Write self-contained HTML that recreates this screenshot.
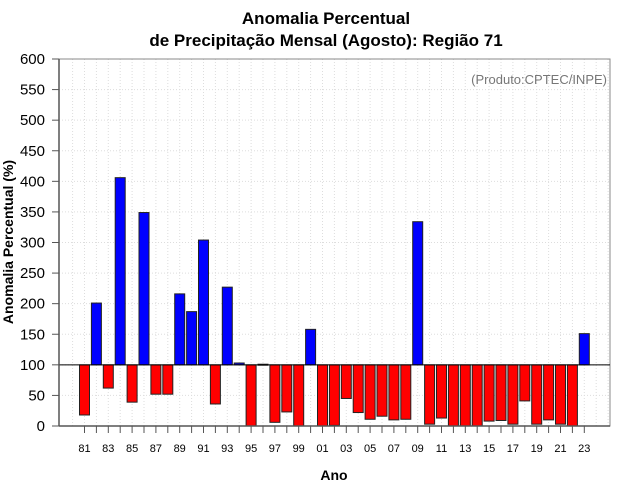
<!DOCTYPE html>
<html><head><meta charset="utf-8"><style>
body{margin:0;background:#fff;}
svg{display:block;font-family:"Liberation Sans",sans-serif;}
</style></head><body>
<svg id="c" width="640" height="500" viewBox="0 0 640 500"></svg>
<script>
const years = [81,82,83,84,85,86,87,88,89,90,91,92,93,94,95,96,97,98,99,0,1,2,3,4,5,6,7,8,9,10,11,12,13,14,15,16,17,18,19,20,21,22,23];
const values = [18,201,62,406,39,349,52,52,216,187,304,36,227,103,0,101,6,23,0,158,0,1,45,22,11,16,10,11,334,3,13,0,0,0,8,9,3,41,3,10,3,0,151];
const yTicks = [0,50,100,150,200,250,300,350,400,450,500,550,600];
const baseline = 100;

const svg = document.getElementById('c');
const NS = 'http://www.w3.org/2000/svg';
const L = 59, R = 610, T = 59, B = 426;
const x0 = 84.5, dx = 11.9, bw = 10;
const yS = v => B - (v / 600) * (B - T);
const xS = i => x0 + i * dx;
function mk(tag, attrs, parent) {
  const e = document.createElementNS(NS, tag);
  for (const k in attrs) e.setAttribute(k, attrs[k]);
  (parent || svg).appendChild(e);
  return e;
}
const grid = mk('g', {});


for (let i = -1; i <= 44; i++) {
  const x = xS(i);
  if (x <= L + 1 || x >= R - 1) continue;
  mk('line', {x1: x, x2: x, y1: T, y2: B, stroke: '#ddd', 'stroke-dasharray': '1,2', 'stroke-width': 1}, grid);
}
yTicks.forEach(v => {
  mk('line', {x1: L, x2: R, y1: yS(v), y2: yS(v), stroke: '#ddd', 'stroke-dasharray': '1,2', 'stroke-width': 1}, grid);
});
const fr = mk('rect', {x: L, y: T, width: R - L, height: B - T, fill: 'none', stroke: '#888', 'stroke-width': 1});


values.forEach((v, i) => {
  const y1 = yS(Math.max(v, baseline)), y2 = yS(Math.min(v, baseline));
  const r = mk('rect', {x: xS(i) - bw / 2, y: y1, width: bw, height: Math.max(y2 - y1, 1), fill: v >= baseline ? '#0000ff' : '#ff0000', stroke: '#222', 'stroke-width': 1});
  
  
});
const bl = mk('line', {x1: L, x2: R, y1: yS(baseline), y2: yS(baseline), stroke: '#000', 'stroke-width': 1});


mk('line', {x1: L, x2: L, y1: T, y2: B, stroke: '#555', 'stroke-width': 1.5});
mk('line', {x1: L, x2: R, y1: B, y2: B, stroke: '#555', 'stroke-width': 1.5});
yTicks.forEach(v => {
  mk('line', {x1: L - 7, x2: L, y1: yS(v), y2: yS(v), stroke: '#555'});
  const t = mk('text', {x: L - 14, y: yS(v) + 5, 'text-anchor': 'end', 'font-size': 15, fill: '#000'});
  t.textContent = v;
  
  
});
years.forEach((yr, i) => {
  mk('line', {x1: xS(i), x2: xS(i), y1: B, y2: B + 7, stroke: '#555'});
  if (i % 2 === 0) {
    const t = mk('text', {x: xS(i), y: B + 26, 'text-anchor': 'middle', 'font-size': 11, fill: '#000'});
    t.textContent = String(yr).padStart(2, '0');
    
    
  }
});
</script>
<div style="position:absolute;left:0;top:0;width:640px;height:500px;pointer-events:none;font-family:'Liberation Sans',sans-serif;">
  <div style="position:absolute;left:0;width:652px;top:8px;text-align:center;font-weight:bold;font-size:17px;line-height:22px;">Anomalia Percentual<br>de Precipitação Mensal (Agosto): Região 71</div>
  <div style="position:absolute;right:33px;top:72px;font-size:13px;color:#777;">(Produto:CPTEC/INPE)</div>
  <div style="position:absolute;left:0;width:668px;top:467px;text-align:center;font-weight:bold;font-size:14px;">Ano</div>
  <div style="position:absolute;left:8px;top:242px;font-weight:bold;font-size:14px;transform:translate(-50%,-50%) rotate(-90deg);transform-origin:center;white-space:nowrap;"><span style="display:inline-block;">Anomalia Percentual (%)</span></div>
</div>
</body></html>
